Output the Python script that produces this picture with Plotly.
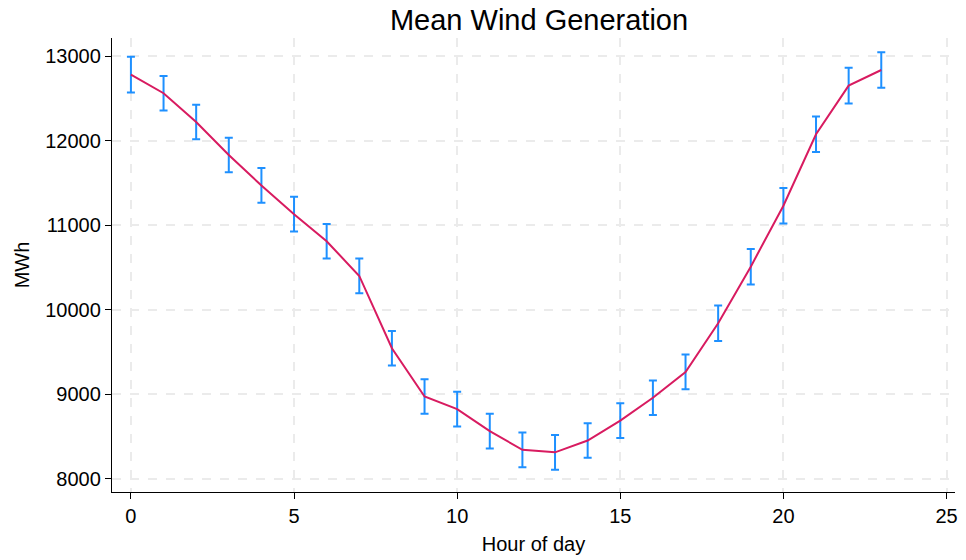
import plotly.graph_objects as go

# Hourly mean wind generation (MWh) with confidence half-widths
hours = list(range(24))
mean_mwh = [12780, 12560, 12220, 11830, 11470, 11130, 10810, 10400,
            9545, 8975, 8825, 8565, 8345, 8315, 8455, 8690,
            8960, 9265, 9840, 10510, 11230, 12075, 12650, 12835]
ci_half = [210, 205, 205, 205, 205, 205, 205, 205,
           205, 205, 205, 205, 205, 205, 205, 205,
           205, 205, 210, 210, 210, 210, 210, 210]

x_ticks = [0, 5, 10, 15, 20, 25]
y_ticks = [8000, 9000, 10000, 11000, 12000, 13000]

fig = go.Figure()

fig.add_trace(go.Scatter(
    x=hours, y=mean_mwh, mode="markers",
    marker=dict(size=0.1, color="rgba(0,0,0,0)"),
    error_y=dict(type="data", array=ci_half, visible=True,
                 color="#1E90FF", thickness=2, width=4),
    showlegend=False, hoverinfo="skip",
))

fig.add_trace(go.Scatter(
    x=hours, y=mean_mwh, mode="lines",
    line=dict(color="#D81B60", width=2),
    showlegend=False,
))

axis_font = dict(family="Liberation Sans, Arial, sans-serif", size=20, color="#000")
grid = dict(showgrid=True, gridcolor="#EBEBEB", griddash="9px,9px", gridwidth=2)

fig.update_layout(
    width=966, height=560,
    margin=dict(l=112, r=8, t=38, b=68),
    paper_bgcolor="white", plot_bgcolor="white",
    font=dict(family="Liberation Sans, Arial, sans-serif", color="#000"),
    title=dict(text="Mean Wind Generation", x=0.558, xanchor="center",
               y=0.965, yanchor="middle",
               font=dict(size=29, color="#000")),
    xaxis=dict(
        range=[-0.58, 25.26], tickvals=x_ticks,
        ticks="outside", ticklen=6, tickwidth=1.3, tickcolor="#000",
        showline=True, linecolor="#000", linewidth=1.3,
        zeroline=False, tickfont=axis_font,
        title=dict(text="Hour of day", font=dict(size=20), standoff=10),
        **grid,
    ),
    yaxis=dict(
        range=[7846, 13213], tickvals=y_ticks,
        ticktext=[str(v) for v in y_ticks],
        ticks="outside", ticklen=6, tickwidth=1.3, tickcolor="#000",
        showline=True, linecolor="#000", linewidth=1.3,
        zeroline=False, tickfont=axis_font,
        title=dict(text="MWh", font=dict(size=20), standoff=10),
        **grid,
    ),
)

fig.write_html("out.html")
